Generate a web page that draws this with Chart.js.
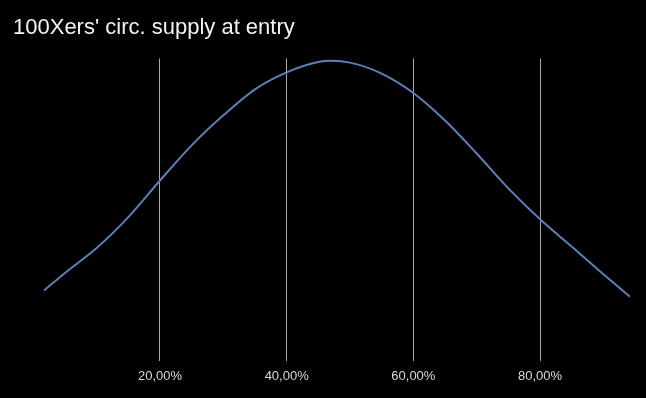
<!DOCTYPE html>
<html>
<head>
<meta charset="utf-8">
<script src="https://cdn.jsdelivr.net/npm/chart.js@4/dist/chart.umd.min.js"></script>
<style>
  html, body { margin: 0; padding: 0; background: #000; }
  canvas { display: block; }
</style>
</head>
<body>
<canvas id="c" width="646" height="398"></canvas>
<script>
const chartTitle = "100Xers' circ. supply at entry";
const supplyPct = [1.7, 5, 10, 15, 20, 25, 30, 35, 40, 45, 47, 50, 55, 60, 65, 70, 75, 80, 85, 90, 94.2];
const frequency = [23.4, 29.2, 37.4, 47.6, 59.7, 71.3, 81.2, 89.8, 95.4, 98.8, 99.2, 98.6, 95.0, 88.6, 79.5, 68.6, 57.1, 46.9, 37.9, 28.8, 21.3];
const tickValues = [20, 40, 60, 80];
const tickLabels = ['20,00%', '40,00%', '60,00%', '80,00%'];

const points = supplyPct.map((x, i) => ({ x: x, y: frequency[i] }));

new Chart(document.getElementById('c'), {
  type: 'line',
  data: {
    datasets: [{
      data: points,
      borderColor: '#5b7fb8',
      borderWidth: 2,
      pointRadius: 0,
      cubicInterpolationMode: 'monotone',
      fill: false
    }]
  },
  options: {
    responsive: false,
    animation: false,
    layout: { padding: { left: 13, right: 16, top: 0, bottom: 7 } },
    plugins: {
      legend: { display: false },
      tooltip: { enabled: false },
      title: {
        display: true,
        text: chartTitle,
        align: 'start',
        color: '#f2f2f2',
        font: { family: '"Liberation Sans", Arial, sans-serif', size: 22, weight: 'normal' },
        padding: { top: 15, bottom: 17 }
      }
    },
    scales: {
      x: {
        type: 'linear',
        min: 0,
        max: 94.2,
        afterBuildTicks: (scale) => { scale.ticks = tickValues.map(v => ({ value: v })); },
        ticks: {
          color: '#d9d9d9',
          padding: 7,
          maxRotation: 0,
          font: { family: '"Liberation Sans", Arial, sans-serif', size: 13 },
          callback: (v) => { const i = tickValues.indexOf(v); return i >= 0 ? tickLabels[i] : ''; }
        },
        grid: { color: '#a8a8a8', lineWidth: 1, drawTicks: false },
        border: { display: false }
      },
      y: {
        display: true,
        min: 0,
        max: 100,
        afterFit: (scale) => { scale.width = 20.3; },
        ticks: { display: false },
        grid: { display: false },
        border: { display: false }
      }
    }
  }
});
</script>
</body>
</html>
